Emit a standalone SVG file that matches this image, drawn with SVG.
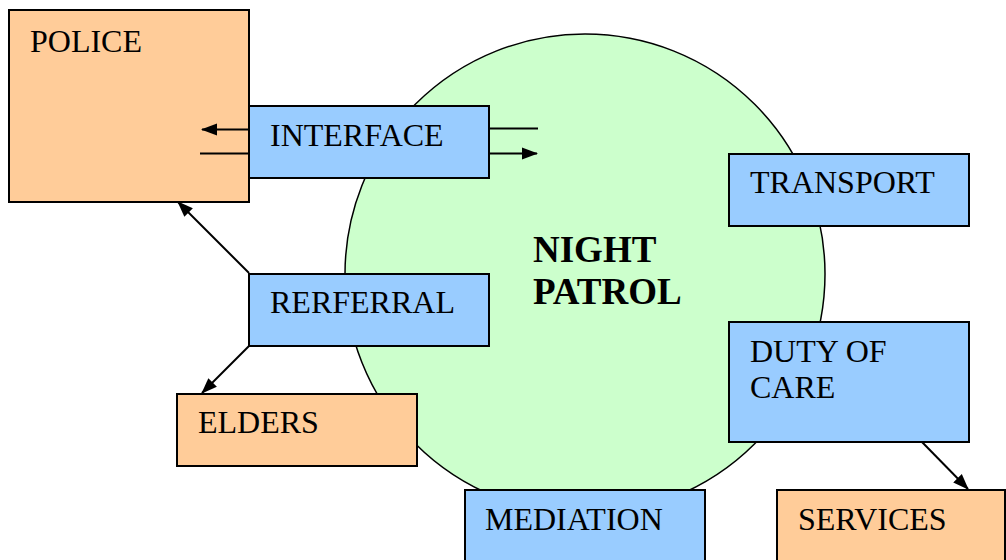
<svg xmlns="http://www.w3.org/2000/svg" width="1006" height="560" viewBox="0 0 1006 560">
<defs>
<style>
.orange{fill:#FFCC99;stroke:#000;stroke-width:2}
.blue{fill:#99CCFF;stroke:#000;stroke-width:2}
.lbl{font-family:"Liberation Serif","Times New Roman",serif;font-size:32px;fill:#000}
.big{font-family:"Liberation Serif","Times New Roman",serif;font-size:37px;font-weight:bold;fill:#000}
.conn{stroke:#000;stroke-width:2;fill:none}
</style>
<marker id="ah" viewBox="0 0 16 12" refX="15" refY="6" markerWidth="16" markerHeight="13" markerUnits="userSpaceOnUse" orient="auto">
<path d="M0,0 L16,6 L0,12 Z" fill="#000"/>
</marker>
</defs>
<rect width="1006" height="560" fill="#fff"/>
<g id="night-patrol">
<circle cx="585" cy="274" r="240" fill="#CCFFCC" stroke="#000" stroke-width="1.5"/>
<text class="big" x="533" y="262">NIGHT</text>
<text class="big" x="533" y="304">PATROL</text>
</g>
<g id="police">
<rect class="orange" x="9" y="10" width="240" height="192"/>
<text class="lbl" x="30" y="52">POLICE</text>
</g>
<g id="interface">
<rect class="blue" x="249" y="106" width="240" height="72"/>
<text class="lbl" x="270" y="146">INTERFACE</text>
</g>
<g id="transport">
<rect class="blue" x="729" y="154" width="240" height="72"/>
<text class="lbl" x="750" y="193">TRANSPORT</text>
</g>
<g id="referral">
<rect class="blue" x="249" y="274" width="240" height="72"/>
<text class="lbl" x="270" y="313">RERFERRAL</text>
</g>
<g id="duty-of-care">
<rect class="blue" x="729" y="322" width="240" height="120"/>
<text class="lbl" x="750" y="362">DUTY OF</text>
<text class="lbl" x="750" y="398">CARE</text>
</g>
<g id="elders">
<rect class="orange" x="177" y="394" width="240" height="72"/>
<text class="lbl" x="198" y="433">ELDERS</text>
</g>
<g id="mediation">
<rect class="blue" x="465" y="490" width="240" height="80"/>
<text class="lbl" x="485" y="530">MEDIATION</text>
</g>
<g id="services">
<rect class="orange" x="777" y="490" width="228" height="80"/>
<text class="lbl" x="798" y="530">SERVICES</text>
</g>
<g id="connectors">
<line class="conn" x1="249" y1="129.5" x2="202" y2="129.5" marker-end="url(#ah)"/>
<line class="conn" x1="249" y1="153.5" x2="200" y2="153.5"/>
<line class="conn" x1="489" y1="128.5" x2="538" y2="128.5"/>
<line class="conn" x1="489" y1="153.5" x2="537" y2="153.5" marker-end="url(#ah)"/>
<line class="conn" x1="249" y1="273" x2="178" y2="202" marker-end="url(#ah)"/>
<line class="conn" x1="249" y1="346" x2="202" y2="393" marker-end="url(#ah)"/>
<line class="conn" x1="922" y1="442" x2="968" y2="489" marker-end="url(#ah)"/>
</g>
</svg>
